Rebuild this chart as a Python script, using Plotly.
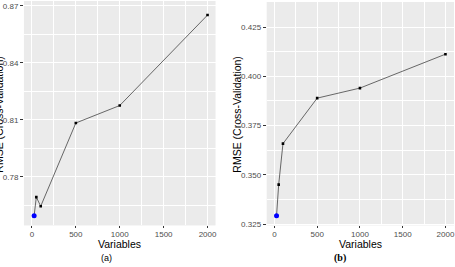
import plotly.graph_objects as go

variables = [25, 50, 100, 500, 1000, 2000]
rmse_a = [0.7596, 0.7694, 0.7646, 0.8084, 0.8176, 0.8652]
rmse_b = [0.3292, 0.3450, 0.3658, 0.3889, 0.3940, 0.4112]
best_a = (25, 0.7596)
best_b = (25, 0.3292)
panel_labels = ["(a)", "(b)"]
x_title = "Variables"
y_title = "RMSE (Cross-Validation)"

W, H = 455, 267
FONT = "Liberation Sans"
GRID = "#FFFFFF"
BG = "#EBEBEB"

fig = go.Figure()

def add_panel(yv, best, xa, ya):
    fig.add_trace(go.Scatter(x=variables, y=yv, mode="lines+markers",
                             line=dict(color="#444444", width=0.8),
                             marker=dict(color="#000000", size=2.6, symbol="square"),
                             xaxis=xa, yaxis=ya, showlegend=False, hoverinfo="skip"))
    fig.add_trace(go.Scatter(x=[best[0]], y=[best[1]], mode="markers",
                             marker=dict(color="#0000FF", size=5),
                             xaxis=xa, yaxis=ya, showlegend=False, hoverinfo="skip"))

add_panel(rmse_a, best_a, "x", "y")
add_panel(rmse_b, best_b, "x2", "y2")

def px_x(p):
    return p / W

def px_y(p):
    return (H - p) / H

common_x = dict(tick0=0, dtick=500, showgrid=True, gridcolor=GRID, gridwidth=1.1,
                minor=dict(dtick=250, showgrid=True, gridcolor=GRID, gridwidth=0.5, ticks=""),
                zeroline=False, ticks="outside", ticklen=2, tickcolor="#333333", tickwidth=0.8,
                ticklabelstandoff=-1,
                tickfont=dict(family=FONT, size=8, color="#4D4D4D"), showline=False)
common_y = dict(showgrid=True, gridcolor=GRID, gridwidth=1.1, zeroline=False,
                ticks="outside", ticklen=3, tickcolor="#333333", tickwidth=0.8,
                tickfont=dict(family=FONT, size=8, color="#4D4D4D"), showline=False)

fig.update_layout(
    width=W, height=H, margin=dict(l=0, r=0, t=0, b=0),
    paper_bgcolor="white", plot_bgcolor=BG,
    xaxis=dict(domain=[px_x(24), px_x(216)], range=[-91, 2091], anchor="y", **common_x),
    yaxis=dict(domain=[px_y(228), px_y(1)], range=[0.7545, 0.8726], anchor="x",
               tick0=0.78, dtick=0.03, tickformat=".2f",
               minor=dict(dtick=0.015, tick0=0.78, showgrid=True, gridcolor=GRID, gridwidth=0.5, ticks=""),
               **common_y),
    xaxis2=dict(domain=[px_x(267.3), 1.0], range=[-90, 2100], anchor="y2", **common_x),
    yaxis2=dict(domain=[px_y(228), px_y(2)], range=[0.3243, 0.4377], anchor="x2",
                tick0=0.325, dtick=0.025, tickformat=".3f",
                minor=dict(dtick=0.0125, tick0=0.325, showgrid=True, gridcolor=GRID, gridwidth=0.5, ticks=""),
                **common_y),
)

ann = []
for cx in [120, 361]:
    ann.append(dict(text=x_title, x=px_x(cx), y=px_y(247), xref="paper", yref="paper",
                    showarrow=False, xanchor="center", yanchor="middle", borderpad=0,
                    font=dict(family=FONT, size=10.5, color="#000000")))
for cx in [-0.5, 238]:
    ann.append(dict(text=y_title, x=px_x(cx), y=px_y(115.5), xref="paper", yref="paper",
                    showarrow=False, xanchor="center", yanchor="middle", textangle=-90, borderpad=0,
                    font=dict(family=FONT, size=10.5, color="#000000")))
ann.append(dict(text=panel_labels[0], x=px_x(107), y=px_y(260.5), xref="paper", yref="paper",
                showarrow=False, xanchor="center", yanchor="middle", borderpad=0,
                font=dict(family=FONT, size=9, color="#000000")))
ann.append(dict(text="<b>" + panel_labels[1] + "</b>", x=px_x(341), y=px_y(260.5), xref="paper", yref="paper",
                showarrow=False, xanchor="center", yanchor="middle", borderpad=0,
                font=dict(family="Liberation Serif", size=10, color="#000000")))
fig.update_layout(annotations=ann)

fig.write_html("out.html")
